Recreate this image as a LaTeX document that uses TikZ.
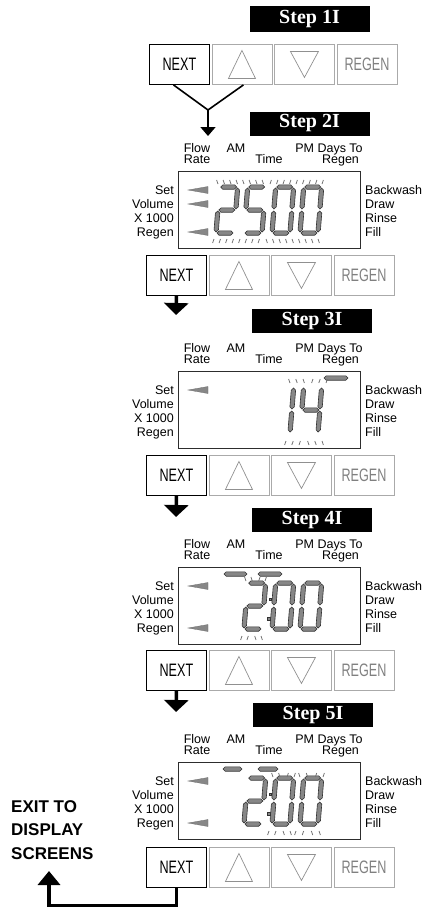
\documentclass[tikz,border=0pt]{standalone}
\usepackage{fontspec}
\setmainfont{Liberation Sans}
\newfontfamily\bannerface{Liberation Serif}
\usepackage{graphicx}
\usetikzlibrary{arrows.meta}
\definecolor{SegFill}{RGB}{135,135,135}
\definecolor{SegEdge}{RGB}{50,50,50}
\definecolor{KeyGray}{RGB}{170,170,170}
\definecolor{TickGray}{RGB}{115,115,115}
\definecolor{LcdEdge}{RGB}{45,45,45}

\tikzset{
  key/.style={draw=KeyGray,line width=0.9pt,minimum width=60pt,minimum height=40pt,inner sep=0pt,anchor=north west},
  nextkey/.style={key,draw=black},
  keytri/.style={draw=KeyGray!85!black,line width=0.7pt},
  lcdbox/.style={draw=LcdEdge,line width=1pt,minimum width=182pt,minimum height=77pt,inner sep=0pt,anchor=north west},
  lbl/.style={inner sep=0pt,text height=9pt,text depth=0pt,font=\fontsize{12.5}{12}\selectfont},
  banner/.style={fill=black,text=white,minimum width=120pt,minimum height=24pt,inner sep=0pt,
    font=\bannerface\bfseries\fontsize{20}{20}\selectfont},
  seg/.style={fill=SegFill,draw=SegEdge,line width=0.6pt,line join=miter},
  pointer/.style={fill=SegFill,draw=SegFill!80!black,line width=0.3pt},
  tick/.style={draw=TickGray,line width=0.8pt},
  flow/.style={line width=3.5pt,-{Triangle[width=24pt,length=12pt]}},
  forkline/.style={line width=1.6pt},
  exitlbl/.style={anchor=west,align=left,inner sep=0pt,font=\bfseries\fontsize{17}{23.5}\selectfont}
}

\newcommand{\keytext}[1]{\scalebox{0.7}[1]{\fontsize{18}{18}\selectfont #1}}

% one lcd segment from (#1,#2) to (#3,#4)
\newcommand{\lcdseg}[4]{%
  \pgfmathsetmacro\segux{(#3-#1)/veclen(#3-#1,#4-#2)}%
  \pgfmathsetmacro\seguy{(#4-#2)/veclen(#3-#1,#4-#2)}%
  \draw[seg] ({#1+1*\segux},{#2+1*\seguy})
    -- ({#1+3.2*\segux-2.2*\seguy},{#2+3.2*\seguy+2.2*\segux})
    -- ({#3-3.2*\segux-2.2*\seguy},{#4-3.2*\seguy+2.2*\segux})
    -- ({#3-1*\segux},{#4-1*\seguy})
    -- ({#3-3.2*\segux+2.2*\seguy},{#4-3.2*\seguy-2.2*\segux})
    -- ({#1+3.2*\segux+2.2*\seguy},{#2+3.2*\seguy-2.2*\segux}) -- cycle;}

\makeatletter
\newcommand{\lcddigit}[3]{%
  \begin{scope}[shift={(#1,#2)},xslant=0.08,yscale=-1]
    \foreach \s/\xa/\ya/\xb/\yb in {a/0/46/18/46,b/18/46/18/23,c/18/23/18/0,d/0/0/18/0,
        e/0/0/0/23,f/0/23/0/46,g/0/23/18/23}{%
      \expandafter\in@\expandafter{\s}{#3}%
      \ifin@\lcdseg{\xa}{\ya}{\xb}{\yb}\fi
    }
  \end{scope}}
\makeatother

\newcommand{\lcdpointer}[1]{\draw[pointer] (188,#1) -- (208,#1-3.5) -- (208,#1+3.5) -- cycle;}

\newcommand{\lcdcolon}[1]{%
  \draw[seg] (269.5,#1+31) rectangle ++(2.2,2.2);
  \draw[seg] (267.5,#1+50) rectangle ++(2.8,2.8);}

\newcommand{\flashticks}[5]{%
  \pgfmathsetmacro\flashmid{(#1+#2)/2}
  \foreach \i in {1,...,#3}{
    \pgfmathsetmacro\tx{#1+(\i-1)*(#2-#1)/(#3-1)}
    \pgfmathsetmacro\tdir{(\tx<\flashmid) ? -1 : 1}
    \draw[tick] (\tx,#4) -- ++(1.4*\tdir,-4);
    \draw[tick] (\tx-4,#5) -- ++(1.4*\tdir,4);
  }}

\newcommand{\lcdpanel}[2]{%
  \node[lcdbox] (#1) at (178,#2) {};
  \node[lbl] (#1flow) at (197,#2-23) {Flow};
  \node[lbl] (#1rate) at (197,#2-12) {Rate};
  \node[lbl] (#1am) at (236,#2-23) {AM};
  \node[lbl] (#1time) at (269,#2-12) {Time};
  \node[lbl] (#1pm) at (329,#2-23) {PM Days To};
  \node[lbl] (#1days) at (340.5,#2-12) {Regen};
  \foreach \txt [count=\k] in {Set,Volume,X 1000,Regen}
    {\node[lbl,anchor=east] (#1l\k) at (174,#2+5+14*\k) {\txt};}
  \foreach \txt [count=\k] in {Backwash,Draw,Rinse,Fill}
    {\node[lbl,anchor=west] (#1r\k) at (365,#2+5+14*\k) {\txt};}
}

\newcommand{\keyrow}[3]{%
  \node[nextkey] (next#1) at (#2,#3) {\keytext{NEXT}};
  \node[key] (up#1) at (#2+62.5,#3) {};
  \node[key] (down#1) at (#2+125,#3) {};
  \node[key,text=KeyGray!75!black] (regen#1) at (#2+187.5,#3) {\keytext{REGEN}};
  \draw[keytri] (up#1.center) ++(-13.5,14) -- ++(13.5,-28) -- ++(13.5,28) -- cycle;
  \draw[keytri] (down#1.center) ++(-14,-13) -- ++(14,26) -- ++(14,-26) -- cycle;
}

\begin{document}
\begin{tikzpicture}[x=1pt,y=-1pt]
  \useasboundingbox (0,0) rectangle (425,907);

  % step 1I
  \node[banner,minimum height=26pt] (step1) at (309.5,19) {Step 1I};
  \keyrow{1}{149}{44}
  \coordinate (fork) at (208,110);
  \coordinate (tip1) at (208,136);
  \draw[forkline] ([xshift=-6pt]next1.south) -- (fork) -- ([xshift=1.5pt]up1.south);
  \draw[forkline,-{Triangle[width=15pt,length=9pt]}] (fork) -- (tip1);

  % step 2I
  \node[banner] (step2) at (309.5,123.5) {Step 2I};
  \lcdpanel{lcd2}{171}
  \foreach \py in {190,204,232} {\lcdpointer{\py}}
  \lcddigit{216}{233}{abged}
  \lcddigit{244}{233}{afgcd}
  \lcddigit{272}{233}{abcdef}
  \lcddigit{300}{233}{abcdef}
  \flashticks{218}{322}{17}{184}{239}
  \keyrow{2}{146}{255}
  \coordinate (tip2) at (176,315);
  \draw[flow] (next2.south) -- (tip2);

  % step 3I
  \node[banner] (step3) at (312,321) {Step 3I};
  \lcdpanel{lcd3}{371}
  \lcdpointer{390}
  \lcddigit{272}{433}{bc}
  \lcddigit{300}{433}{fgbc}
  \lcdseg{323}{378}{349}{378}
  \flashticks{290}{326}{6}{383}{441}
  \keyrow{3}{146}{455}
  \coordinate (tip3) at (176,517);
  \draw[flow] (next3.south) -- (tip3);

  % step 4I
  \node[banner] (step4) at (312,520) {Step 4I};
  \lcdpanel{lcd4}{567}
  \foreach \py in {586,628} {\lcdpointer{\py}}
  \lcdseg{223}{574}{248}{574}
  \lcdseg{257}{574}{283}{574}
  \lcddigit{244}{629}{abged}
  \lcdcolon{567}
  \lcddigit{272}{629}{abcdef}
  \lcddigit{300}{629}{abcdef}
  \flashticks{246}{265}{4}{581}{636}
  \keyrow{4}{146}{650}
  \coordinate (tip4) at (176,712);
  \draw[flow] (next4.south) -- (tip4);

  % step 5I
  \node[banner] (step5) at (313,715) {Step 5I};
  \lcdpanel{lcd5}{762}
  \foreach \py in {781,823} {\lcdpointer{\py}}
  \lcdseg{222}{769}{243}{769}
  \lcdseg{257}{769}{279}{769}
  \lcddigit{244}{824}{abged}
  \lcdcolon{762}
  \lcddigit{272}{824}{abcdef}
  \lcddigit{300}{824}{abcdef}
  \flashticks{273}{294}{4}{777}{831}
  \flashticks{300}{323}{4}{777}{831}
  \keyrow{5}{146}{847}

  % back out
  \node[exitlbl] (exit) at (11,830) {EXIT TO\\DISPLAY\\SCREENS};
  \coordinate (exitend) at (49,871);
  \draw[flow,-{Triangle[width=22pt,length=14pt]}] (next5.south) -- ++(0,18) -| (exitend);
\end{tikzpicture}
\end{document}
